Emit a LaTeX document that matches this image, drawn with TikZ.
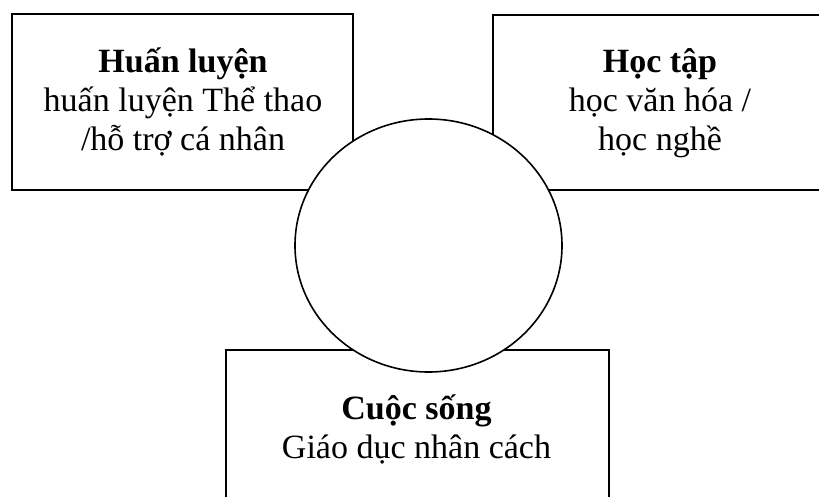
\documentclass[tikz,border=0pt]{standalone}
\usepackage{fontspec}
\setmainfont{Liberation Serif}
\usetikzlibrary{shapes.geometric}
\begin{document}
\begin{tikzpicture}[x=1pt,y=-1pt,
  box/.style={draw, line width=2pt, inner sep=0pt, anchor=north west},
  lbl/.style={anchor=base, inner sep=0pt, font=\fontsize{34}{39}\selectfont},
  ttl/.style={anchor=base, inner sep=0pt, font=\fontsize{34}{39}\selectfont\bfseries},
  hub/.style={draw, ellipse, fill=white, line width=1.6pt, inner sep=0pt}]
\clip (0,0) rectangle (819,497);
\fill[white] (0,0) rectangle (819,497);
% boxes
\node[box, minimum width=341pt, minimum height=176pt] (hl) at (11,13) {};
\node[box, minimum width=340pt, minimum height=175pt] (ht) at (492,14) {};
\node[box, minimum width=383pt, minimum height=170pt] (cs) at (225,349) {};
% texts
\node[ttl] (hlT) at (183,72.7) {Huấn luyện};
\node[lbl] (hl1) at (183,111.7) {huấn luyện Thể thao};
\node[lbl] (hl2) at (183,150.7) {/hỗ trợ cá nhân};
\node[ttl] (htT) at (660,72.7) {Học tập};
\node[lbl] (ht1) at (660,111.7) {học văn hóa /};
\node[lbl] (ht2) at (660,150.7) {học nghề};
\node[ttl] (csT) at (416.5,419) {Cuộc sống};
\node[lbl] (cs1) at (416.5,458) {Giáo dục nhân cách};
% centre
\node[hub, minimum width=267pt, minimum height=253pt] (c) at (428.5,245.5) {};
\end{tikzpicture}
\end{document}
